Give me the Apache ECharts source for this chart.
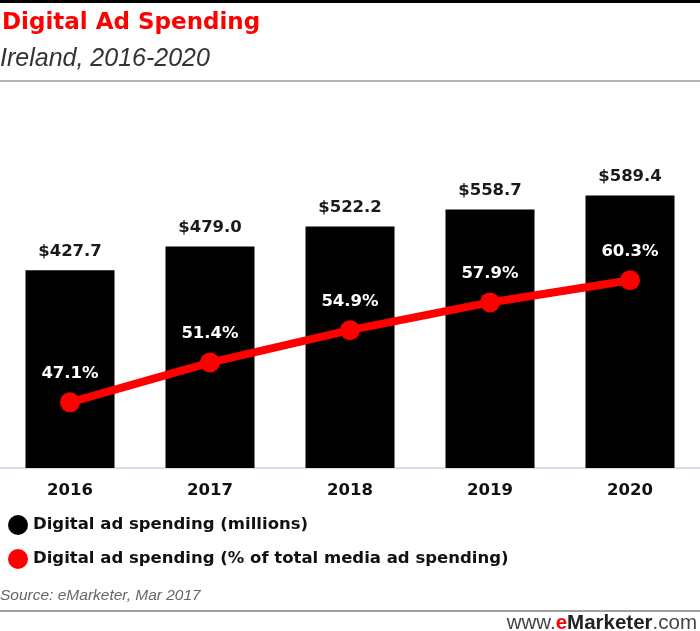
<!DOCTYPE html>
<html>
<head>
<meta charset="utf-8">
<script src="https://cdn.jsdelivr.net/npm/echarts@6/dist/echarts.min.js"></script>
<style>
html,body{margin:0;padding:0;background:#fff;}
#chart{width:700px;height:631px;}
</style>
</head>
<body>
<div id="chart"></div>
<script>
const categories = ['2016', '2017', '2018', '2019', '2020'];
const spendingMillions = [427.7, 479.0, 522.2, 558.7, 589.4];
const shareOfTotal = [47.1, 51.4, 54.9, 57.9, 60.3];
const seriesNames = ['Digital ad spending (millions)', 'Digital ad spending (% of total media ad spending)'];
const titleText = 'Digital Ad Spending';
const subtitleText = 'Ireland, 2016-2020';
const sourceText = 'Source: eMarketer, Mar 2017';

const BOLD = '"DejaVu Sans", Verdana, sans-serif';
const chart = echarts.init(document.getElementById('chart'), null, {renderer: 'canvas'});
chart.setOption({
  animation: false,
  backgroundColor: '#fff',
  grid: {left: 0, right: 0, top: 98, bottom: 163},
  legend: {
    orient: 'vertical', left: 8, top: 515, itemGap: 14, padding: 0,
    itemWidth: 20, itemHeight: 20,
    data: [
      {name: seriesNames[0], icon: 'circle'},
      {name: seriesNames[1], icon: 'circle'}
    ],
    textStyle: {fontFamily: BOLD, fontWeight: 'bold', fontSize: 16.5, color: '#111'}
  },
  xAxis: {
    type: 'category', data: categories,
    axisTick: {show: false},
    axisLine: {lineStyle: {color: '#d5dcea', width: 2}},
    axisLabel: {fontFamily: BOLD, fontWeight: 'bold', fontSize: 16.5, color: '#111', margin: 14}
  },
  yAxis: [
    {type: 'value', min: 0, max: 800, show: false, splitLine: {show: false}},
    {type: 'value', min: 40, max: 80, show: false, splitLine: {show: false}}
  ],
  series: [
    {
      name: seriesNames[0], type: 'bar', data: spendingMillions, barWidth: 89,
      itemStyle: {color: '#000'},
      label: {show: true, position: 'top', distance: 10,
        fontFamily: BOLD, fontWeight: 'bold', fontSize: 16.5, color: '#1a1a1a',
        formatter: p => '$' + p.value.toFixed(1)}
    },
    {
      name: seriesNames[1], type: 'line', yAxisIndex: 1, data: shareOfTotal,
      symbol: 'circle', symbolSize: 20,
      lineStyle: {color: '#ff0000', width: 8},
      itemStyle: {color: '#ff0000'},
      label: {show: true, position: 'top', distance: 10,
        fontFamily: BOLD, fontWeight: 'bold', fontSize: 16.5, color: '#fff',
        formatter: p => p.value.toFixed(1) + '%'}
    }
  ],
  graphic: [
    {type: 'rect', shape: {x: 0, y: 0, width: 700, height: 3}, style: {fill: '#000'}},
    {type: 'text', x: 2, y: 23, style: {text: titleText, fill: '#ff0000',
      font: 'bold 23px "DejaVu Sans", Verdana, sans-serif', textVerticalAlign: 'middle'}},
    {type: 'text', x: 0, y: 59, style: {text: subtitleText, fill: '#333',
      font: 'italic 25px "Liberation Sans", Arial, sans-serif', textVerticalAlign: 'middle'}},
    {type: 'rect', shape: {x: 0, y: 80, width: 700, height: 2}, style: {fill: '#b4b4b4'}},
    {type: 'text', x: 0, y: 596, style: {text: sourceText, fill: '#666',
      font: 'italic 15.5px "Liberation Sans", Arial, sans-serif', textVerticalAlign: 'middle'}},
    {type: 'rect', shape: {x: 0, y: 610, width: 700, height: 2}, style: {fill: '#a0a0a0'}},
    {type: 'text', x: 697, y: 623, style: {
      text: '{w|www.}{e|e}{m|Marketer}{w|.com}',
      textAlign: 'right', textVerticalAlign: 'middle',
      rich: {
        w: {fontFamily: '"Liberation Sans", Arial, sans-serif', fontSize: 20.5, fill: '#444', color: '#444'},
        e: {fontFamily: '"Liberation Sans", Arial, sans-serif', fontSize: 20.5, fontWeight: 'bold', color: '#ff0000', fill: '#ff0000'},
        m: {fontFamily: '"Liberation Sans", Arial, sans-serif', fontSize: 20.5, fontWeight: 'bold', color: '#222', fill: '#222'}
      }
    }}
  ]
});
</script>
</body>
</html>
